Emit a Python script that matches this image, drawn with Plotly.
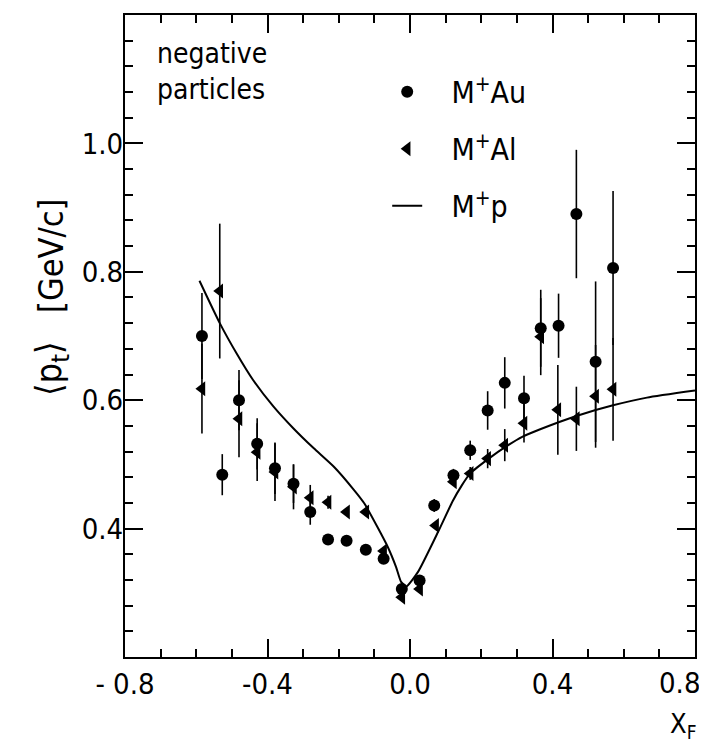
import plotly.graph_objects as go

# M+Au data
au_x = [-0.584, -0.527, -0.480, -0.429, -0.379, -0.327, -0.280, -0.230, -0.178, -0.124, -0.074, -0.023,
        0.027, 0.068, 0.122, 0.169, 0.218, 0.266, 0.320, 0.367, 0.417, 0.467, 0.521, 0.570]
au_y = [0.700, 0.484, 0.600, 0.532, 0.494, 0.470, 0.426, 0.383, 0.381, 0.367, 0.353, 0.306,
        0.319, 0.436, 0.483, 0.522, 0.584, 0.627, 0.603, 0.712, 0.716, 0.890, 0.660, 0.806]
au_err = [0.067, 0.032, 0.047, 0.040, 0.040, 0.030, 0.020, 0.0, 0.0, 0.0, 0.0, 0.0,
          0.0, 0.010, 0.010, 0.015, 0.030, 0.040, 0.035, 0.060, 0.050, 0.100, 0.125, 0.120]

# M+Al data
al_x = [-0.584, -0.534, -0.480, -0.429, -0.379, -0.327, -0.280, -0.230, -0.178, -0.124, -0.074, -0.023,
        0.027, 0.072, 0.122, 0.169, 0.218, 0.266, 0.320, 0.367, 0.415, 0.467, 0.521, 0.570]
al_y = [0.618, 0.770, 0.571, 0.519, 0.488, 0.465, 0.448, 0.441, 0.426, 0.426, 0.365, 0.293,
        0.306, 0.405, 0.473, 0.486, 0.509, 0.530, 0.564, 0.699, 0.585, 0.571, 0.606, 0.617]
al_err = [0.070, 0.105, 0.060, 0.045, 0.045, 0.035, 0.020, 0.010, 0.0, 0.0, 0.0, 0.0,
          0.0, 0.0, 0.0, 0.010, 0.015, 0.025, 0.030, 0.060, 0.070, 0.050, 0.080, 0.080]

# M+p curve
p_x = [-0.591, -0.534, -0.487, -0.440, -0.383, -0.327, -0.270, -0.213, -0.157, -0.128, -0.091,
       -0.062, -0.039, -0.025, -0.010, 0.023, 0.079, 0.120, 0.145, 0.169, 0.221, 0.270, 0.315,
       0.419, 0.476, 0.570, 0.665, 0.800]
p_y = [0.786, 0.720, 0.673, 0.631, 0.590, 0.556, 0.525, 0.496, 0.460, 0.439, 0.402,
       0.371, 0.340, 0.317, 0.310, 0.333, 0.395, 0.443, 0.467, 0.486, 0.509, 0.528, 0.543,
       0.566, 0.577, 0.592, 0.604, 0.615]

x_tickvals = [-0.8, -0.4, 0.0, 0.4, 0.8]
x_ticktext = ["- 0.8", "-0.4", "0.0", "0.4", "0.8"]
y_tickvals = [0.4, 0.6, 0.8, 1.0]
y_ticktext = ["0.4", "0.6", "0.8", "1.0"]

FONT = "DejaVu Sans Condensed, DejaVu Sans, sans-serif"
TICKSIZE = 29

fig = go.Figure()
fig.add_trace(go.Scatter(
    x=au_x, y=au_y, mode="markers", name="\u2002\u2009\u2009M<sup>+</sup>Au", legendgroup="a",
    marker=dict(symbol="circle", size=12, color="black"),
    error_y=dict(type="data", array=au_err, visible=True, width=0, thickness=1.6, color="black"),
))
fig.add_trace(go.Scatter(
    x=al_x, y=al_y, mode="markers", name="\u2002\u2009\u2009M<sup>+</sup>Al", legendgroup="b",
    marker=dict(symbol="triangle-left", size=13, color="black"),
    error_y=dict(type="data", array=al_err, visible=True, width=0, thickness=1.6, color="black"),
))
fig.add_trace(go.Scatter(
    x=p_x, y=p_y, mode="lines", name="\u2002\u2009\u2009M<sup>+</sup>p", legendgroup="c",
    line=dict(color="black", width=2, shape="spline", smoothing=0.5),
))

axis_common = dict(
    showgrid=False, zeroline=False, showline=True, linecolor="black", linewidth=2,
    mirror="allticks", ticks="inside", ticklen=18, tickwidth=2, tickcolor="black",
    tickfont=dict(family=FONT, size=TICKSIZE, color="black"), automargin=False,
)
# the last x label sits inside the frame edge in the reference, so it is drawn as an annotation
fig.update_xaxes(
    range=[-0.8, 0.8], tickvals=x_tickvals, ticktext=x_ticktext[:-1] + [""], ticklabelstandoff=0,
    minor=dict(dtick=0.1, ticks="inside", ticklen=8, tickwidth=1.5, tickcolor="black"),
    **axis_common,
)
fig.update_yaxes(
    range=[0.2, 1.2], tickvals=y_tickvals, ticktext=y_ticktext, ticklabelstandoff=-6,
    minor=dict(tick0=0.2, dtick=0.04, ticks="inside", ticklen=8, tickwidth=1.5, tickcolor="black"),
    **axis_common,
)

fig.add_annotation(
    text=x_ticktext[-1], xref="x", yref="paper", x=x_tickvals[-1], y=-0.0405,
    xanchor="right", yanchor="middle", xshift=7, showarrow=False,
    font=dict(family=FONT, size=TICKSIZE, color="black"),
)

fig.add_annotation(
    text="negative<br>particles", xref="paper", yref="paper", x=0.0526, y=1 - (71 - 15) / 642,
    xanchor="left", yanchor="middle", align="left", showarrow=False,
    font=dict(family=FONT, size=28, color="black"),
)
fig.add_annotation(
    text="\u27e8p<sub>t</sub>\u27e9", xref="paper", yref="paper", x=-0.128, y=1 - (361 - 7) / 642,
    xanchor="center", yanchor="middle", textangle=-90, showarrow=False,
    font=dict(family=FONT, size=36, color="black"),
)
fig.add_annotation(
    text="[GeV/c]", xref="paper", yref="paper", x=-0.13, y=1 - (248 - 7) / 642,
    xanchor="center", yanchor="middle", textangle=-90, showarrow=False,
    font=dict(family=FONT, size=34, color="black"),
)
fig.add_annotation(
    text="X<sub>F</sub>", xref="paper", yref="paper", x=0.979, y=-0.106,
    xanchor="center", yanchor="middle", showarrow=False,
    font=dict(family=FONT, size=27, color="black"),
)

fig.update_layout(
    width=699, height=738,
    margin=dict(l=117, r=12, t=7, b=89),
    paper_bgcolor="white", plot_bgcolor="white",
    showlegend=True,
    legend=dict(
        x=0.46, y=0.921, xanchor="left", yanchor="top",
        font=dict(family=FONT, size=30, color="black"),
        bgcolor="rgba(0,0,0,0)", tracegroupgap=15, itemwidth=30,
    ),
)

fig.write_html("out.html")
